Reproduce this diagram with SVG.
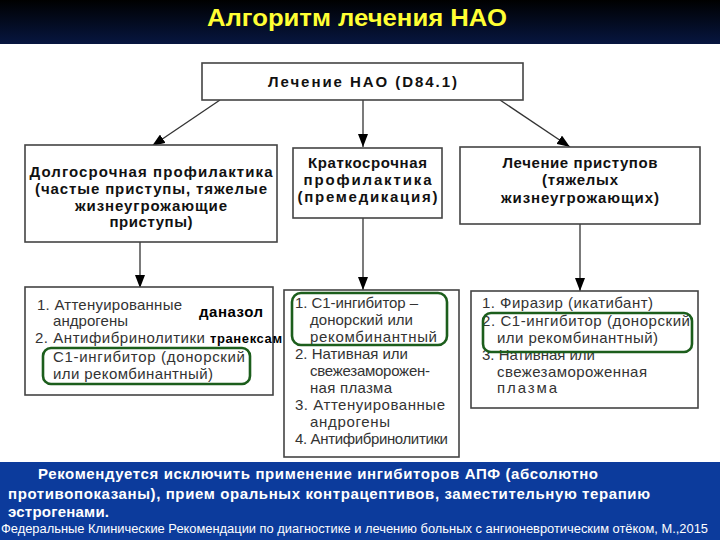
<svg xmlns="http://www.w3.org/2000/svg" width="720" height="540" viewBox="0 0 720 540">
<defs>
<linearGradient id="tb" x1="0" y1="0" x2="0" y2="1">
<stop offset="0" stop-color="#000000"/>
<stop offset="1" stop-color="#071640"/>
</linearGradient>
<marker id="ah" viewBox="0 0 13 10" refX="13" refY="5" markerWidth="13" markerHeight="10" markerUnits="userSpaceOnUse" orient="auto">
<path d="M0,0 L13,5 L0,10 z" fill="#000"/>
</marker>
<style>
.box{fill:#fff;stroke:#444;stroke-width:1.6}
.grn{fill:none;stroke:#1c5e1c;stroke-width:2.6}
.hd{font-family:"Liberation Sans",Arial,sans-serif;font-weight:bold;font-size:15px;fill:#111;text-anchor:middle}
.it{font-family:"Liberation Sans",Arial,sans-serif;font-size:15px;fill:#333}
.ann{font-family:"Liberation Sans",Arial,sans-serif;font-weight:bold;fill:#000}
.bn{font-family:"Liberation Sans",Arial,sans-serif;font-weight:bold;font-size:15px;fill:#fff}
.ft{font-family:"Liberation Sans",Arial,sans-serif;font-size:12px;fill:#fff}
.cn{stroke:#333;stroke-width:1.3;fill:none}
</style>
</defs>
<rect x="0" y="0" width="720" height="540" fill="#fff"/>
<rect x="0" y="0" width="720" height="44" fill="url(#tb)"/>
<text x="207" y="26" font-family="Liberation Sans, Arial, sans-serif" font-weight="bold" font-size="24" fill="#ffff33" textLength="300" lengthAdjust="spacingAndGlyphs">Алгоритм лечения НАО</text>

<g id="connectors">
<line class="cn" x1="220" y1="100" x2="152" y2="146" marker-end="url(#ah)"/>
<line class="cn" x1="363" y1="100" x2="363" y2="147" marker-end="url(#ah)"/>
<line class="cn" x1="500" y1="100" x2="570" y2="147" marker-end="url(#ah)"/>
<line class="cn" x1="140" y1="242" x2="140" y2="288" marker-end="url(#ah)"/>
<line class="cn" x1="363" y1="218" x2="363" y2="290" marker-end="url(#ah)"/>
<line class="cn" x1="580" y1="224" x2="580" y2="291" marker-end="url(#ah)"/>
</g>

<g id="root">
<rect class="box" x="202" y="63" width="321" height="37"/>
<text class="hd" x="362.5" y="87" font-size="16" textLength="189">Лечение НАО (D84.1)</text>
</g>

<g id="long-term">
<rect class="box" x="25" y="145" width="252" height="97"/>
<text class="hd" x="151" y="177" textLength="243">Долгосрочная профилактика</text>
<text class="hd" x="151" y="194" textLength="232">(частые приступы, тяжелые</text>
<text class="hd" x="151" y="211" textLength="152">жизнеугрожающие</text>
<text class="hd" x="151" y="227" textLength="83">приступы)</text>
</g>

<g id="short-term">
<rect class="box" x="293" y="148" width="149" height="70"/>
<text class="hd" x="367.5" y="168" textLength="119">Краткосрочная</text>
<text class="hd" x="367.5" y="185" textLength="128">профилактика</text>
<text class="hd" x="367.5" y="202" textLength="140">(премедикация)</text>
</g>

<g id="attacks">
<rect class="box" x="460" y="147" width="240" height="77"/>
<text class="hd" x="580" y="168" textLength="155">Лечение приступов</text>
<text class="hd" x="580" y="185" textLength="76">(тяжелых</text>
<text class="hd" x="580" y="203" textLength="158">жизнеугрожающих)</text>
</g>

<g id="long-term-drugs">
<rect class="box" x="25" y="287" width="248" height="108"/>
<text class="it" x="37" y="310" textLength="145">1. Аттенуированные</text>
<text class="it" x="53" y="326" textLength="75">андрогены</text>
<text class="it" x="35" y="343" textLength="170">2. Антифибринолитики</text>
<text class="it" x="53" y="362" textLength="192">C1-ингибитор (донорский</text>
<text class="it" x="53" y="379" textLength="160">или рекомбинантный)</text>
<rect class="grn" x="43" y="348" width="207" height="36" rx="8"/>
<text class="ann" x="199" y="317" font-size="15" textLength="64">даназол</text>
<text class="ann" x="210" y="343" font-size="13" textLength="72">транексам</text>
</g>

<g id="short-term-drugs">
<rect class="box" x="284" y="290" width="175" height="167"/>
<text class="it" x="295" y="308" textLength="123">1. C1-ингибитор –</text>
<text class="it" x="310" y="325" textLength="103">донорский или</text>
<text class="it" x="310" y="342" textLength="127">рекомбинантный</text>
<text class="it" x="295" y="359" textLength="113">2. Нативная или</text>
<text class="it" x="310" y="376" textLength="120">свежезаморожен-</text>
<text class="it" x="310" y="393" textLength="82">ная плазма</text>
<text class="it" x="295" y="410" textLength="150">3. Аттенуированные</text>
<text class="it" x="310" y="427" textLength="80">андрогены</text>
<text class="it" x="295" y="444" textLength="153">4. Антифибринолитики</text>
<rect class="grn" x="292" y="293" width="155" height="52" rx="9"/>
</g>

<g id="attack-drugs">
<rect class="box" x="471" y="291" width="227" height="117"/>
<text class="it" x="482" y="308" textLength="171">1. Фиразир (икатибант)</text>
<text class="it" x="482" y="326" textLength="208">2. C1-ингибитор (донорский</text>
<text class="it" x="497" y="343" textLength="161">или рекомбинантный)</text>
<text class="it" x="482" y="360" textLength="113">3. Нативная или</text>
<text class="it" x="497" y="377" textLength="150">свежезамороженная</text>
<text class="it" x="497" y="393" textLength="60">плазма</text>
<rect class="grn" x="483" y="313" width="209" height="39" rx="8"/>
</g>

<rect x="0" y="462" width="720" height="78" fill="#0c3b9c"/>
<text class="bn" x="38" y="479" textLength="560">Рекомендуется исключить применение ингибиторов АПФ (абсолютно</text>
<text class="bn" x="8" y="499" textLength="642">противопоказаны), прием оральных контрацептивов, заместительную терапию</text>
<text class="bn" x="8" y="517" textLength="101">эстрогенами.</text>
<text class="ft" x="1" y="533" textLength="707" lengthAdjust="spacingAndGlyphs">Федеральные Клинические Рекомендации по диагностике и лечению больных с ангионевротическим отёком, М.,2015</text>
</svg>
